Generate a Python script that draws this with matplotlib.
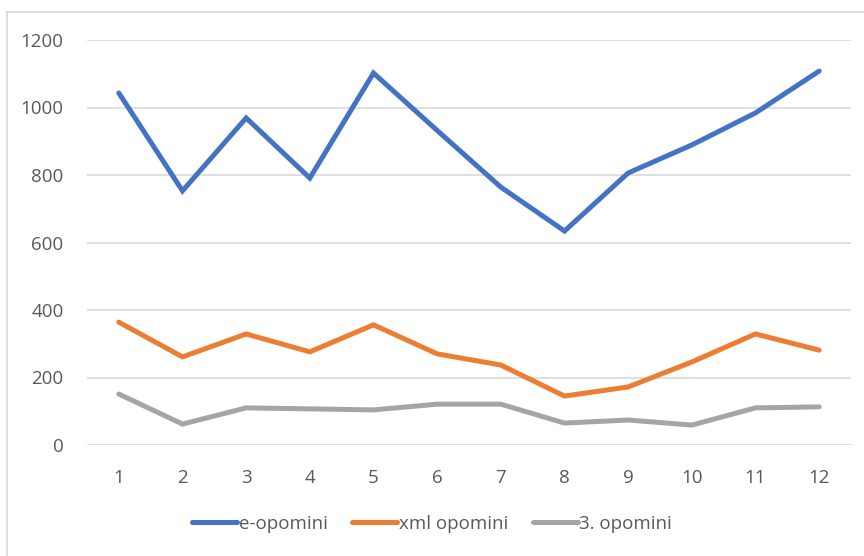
import matplotlib
matplotlib.use("Agg")
import matplotlib.pyplot as plt
from matplotlib.lines import Line2D

# data
months = [1, 2, 3, 4, 5, 6, 7, 8, 9, 10, 11, 12]
e_opomini = [1043, 753, 969, 791, 1102, 932, 764, 634, 806, 889, 984, 1108]
xml_opomini = [364, 261, 329, 276, 356, 270, 237, 145, 172, 246, 329, 281]
opomini_3 = [151, 62, 110, 107, 104, 121, 121, 65, 74, 59, 110, 113]

plt.rcParams['font.family'] = ['Open Sans', 'DejaVu Sans']

fig = plt.figure(figsize=(8.64, 5.56), dpi=100)
ax = fig.add_axes([87/864, 1-445/556, (851-87)/864, (445-40)/556])

ax.plot(months, e_opomini, color="#4472C4", lw=3.6, label="e-opomini", solid_capstyle="round", solid_joinstyle="miter")
ax.plot(months, xml_opomini, color="#ED7D31", lw=3.6, label="xml opomini", solid_capstyle="round", solid_joinstyle="miter")
ax.plot(months, opomini_3, color="#A5A5A5", lw=3.6, label="3. opomini", solid_capstyle="round", solid_joinstyle="miter")

ax.set_xlim(0.5, 12.5)
ax.set_ylim(0, 1200)
ax.set_yticks(range(0, 1201, 200))
ax.set_xticks(months)
ax.grid(axis="y", color="#D9D9D9", lw=1.2)
ax.set_axisbelow(True)
for s in ax.spines.values():
    s.set_visible(False)
ax.tick_params(length=0, labelsize=13.5, labelcolor="#595959")
ax.tick_params(axis="y", pad=17)
ax.tick_params(axis="x", pad=17)

fig.legend(loc="center", bbox_to_anchor=(0.5, 1-524/556), ncol=3, frameon=False,
           fontsize=13.5, handlelength=2.4, handletextpad=0.1, columnspacing=1.3,
           labelcolor="#595959")

# chart area border (cropped screenshot)
fig.add_artist(Line2D([7/864, 7/864], [0, 1-12/556], color="#D9D9D9", lw=1.2, transform=fig.transFigure))
fig.add_artist(Line2D([7/864, 1], [1-12/556, 1-12/556], color="#D9D9D9", lw=1.2, transform=fig.transFigure))

fig.savefig("out.png", dpi=100)
